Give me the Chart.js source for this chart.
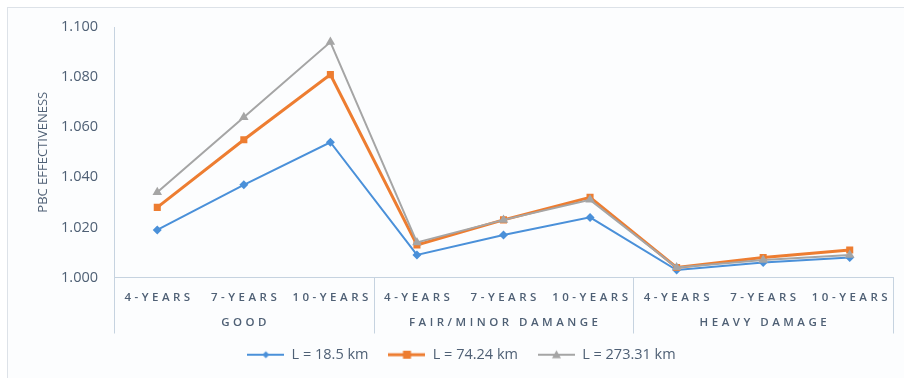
<!DOCTYPE html>
<html>
<head>
  <meta charset="UTF-8">
  <title>PBC Effectiveness</title>
  <style>
    body {
      margin: 0;
      background: #ffffff;
      overflow: hidden;
    }
    #frame {
      position: absolute;
      left: 7px;
      top: 7px;
      width: 910px;
      height: 390px;
      border: 1px solid #dde2e8;
      background: #fcfdfe;
    }
    #chart {
      position: absolute;
      left: 0;
      top: 0;
    }
  </style>
  <script src="https://cdn.jsdelivr.net/npm/chart.js"></script>
</head>
<body>
  <div id="frame"></div>
  <canvas id="chart" width="904" height="378"></canvas>
  <script>
    const categories = ['4-YEARS', '7-YEARS', '10-YEARS', '4-YEARS', '7-YEARS', '10-YEARS', '4-YEARS', '7-YEARS', '10-YEARS'];
    const groups = ['GOOD', 'FAIR/MINOR DAMANGE', 'HEAVY DAMAGE'];
    const seriesNames = ['L = 18.5 km', 'L = 74.24 km', 'L = 273.31 km'];
    const short = [1.019, 1.037, 1.054, 1.009, 1.017, 1.024, 1.003, 1.006, 1.008];
    const medium = [1.028, 1.055, 1.081, 1.013, 1.023, 1.032, 1.004, 1.008, 1.011];
    const long = [1.034, 1.064, 1.094, 1.014, 1.023, 1.031, 1.004, 1.007, 1.009];
    const yTicks = { min: 1.0, max: 1.1, step: 0.02 };

    const textColor = '#4f6075';
    const axisColor = '#c6d3e0';
    const colors = ['#4a90d9', '#ed7d31', '#a5a5a5'];
    const styles = [
      { pointStyle: 'rectRot', radius: 4.5, width: 2 },
      { pointStyle: 'rect', radius: 5, width: 3 },
      { pointStyle: 'triangle', radius: 5.5, width: 2 }
    ];

    // small "line with marker" swatch for the legend
    function legendSwatch(i) {
      const c = document.createElement('canvas');
      c.width = 37;
      c.height = 12;
      const g = c.getContext('2d');
      g.strokeStyle = colors[i];
      g.fillStyle = colors[i];
      g.lineWidth = styles[i].width;
      g.beginPath();
      g.moveTo(0, 6);
      g.lineTo(37, 6);
      g.stroke();
      g.beginPath();
      if (i === 0) {
        g.moveTo(18.5, 2.5); g.lineTo(22, 6); g.lineTo(18.5, 9.5); g.lineTo(15, 6);
      } else if (i === 1) {
        g.rect(14.5, 2, 8, 8);
      } else {
        g.moveTo(18.5, 1.5); g.lineTo(23, 9.5); g.lineTo(14, 9.5);
      }
      g.closePath();
      g.fill();
      return c;
    }
    const swatches = [0, 1, 2].map(legendSwatch);

    // two-row category axis: years under each point, condition under each group
    const groupedAxis = {
      id: 'groupedAxis',
      afterDraw(chart) {
        const ctx = chart.ctx;
        const x = chart.scales.x;
        const bottom = chart.chartArea.bottom;
        const step = x.getPixelForValue(1) - x.getPixelForValue(0);
        const per = categories.length / groups.length;
        const spacing = 3.5;
        ctx.save();
        ctx.strokeStyle = axisColor;
        ctx.lineWidth = 1;
        for (let g = 0; g <= groups.length; g++) {
          const px = Math.round(x.getPixelForValue(g * per) - step / 2) + 0.5;
          ctx.beginPath();
          ctx.moveTo(px, bottom);
          ctx.lineTo(px, bottom + 56);
          ctx.stroke();
        }
        ctx.fillStyle = textColor;
        ctx.textAlign = 'center';
        ctx.textBaseline = 'middle';
        ctx.font = '600 11.5px "Open Sans"';
        ctx.letterSpacing = spacing + 'px';
        categories.forEach((c, i) => {
          ctx.fillText(c, x.getPixelForValue(i) + spacing / 2, bottom + 20);
        });
        groups.forEach((g, i) => {
          const cx = (x.getPixelForValue(i * per) + x.getPixelForValue(i * per + per - 1)) / 2;
          ctx.fillText(g, cx + spacing / 2, bottom + 45);
        });
        ctx.restore();
      }
    };

    const data = [short, medium, long];
    const ctx = document.getElementById('chart').getContext('2d');

    new Chart(ctx, {
      type: 'line',
      data: {
        labels: categories,
        datasets: data.map((values, i) => ({
          label: seriesNames[i],
          data: values,
          borderColor: colors[i],
          backgroundColor: colors[i],
          borderWidth: styles[i].width,
          pointStyle: styles[i].pointStyle,
          pointRadius: styles[i].radius,
          pointBorderWidth: 0,
          tension: 0,
          fill: false,
          order: 2 - i
        }))
      },
      options: {
        responsive: false,
        animation: false,
        layout: {
          padding: { top: 27, left: 30, right: 11, bottom: 6 }
        },
        plugins: {
          title: { display: false },
          tooltip: { enabled: false },
          legend: {
            position: 'bottom',
            labels: {
              usePointStyle: true,
              pointStyleWidth: 37,
              boxHeight: 12,
              padding: 20,
              color: textColor,
              font: { family: '"Open Sans"', size: 14.5 },
              generateLabels(chart) {
                return Chart.defaults.plugins.legend.labels.generateLabels(chart)
                  .sort((a, b) => a.datasetIndex - b.datasetIndex)
                  .map(item => Object.assign(item, { pointStyle: swatches[item.datasetIndex] }));
              }
            }
          }
        },
        scales: {
          x: {
            type: 'category',
            offset: true,
            grid: { display: false },
            border: { display: true, color: axisColor, width: 1 },
            ticks: { display: false },
            afterFit(scale) { scale.height = 50; }
          },
          y: {
            min: yTicks.min,
            max: yTicks.max,
            grid: { display: false, drawTicks: false },
            border: { display: true, color: axisColor, width: 1 },
            ticks: {
              stepSize: yTicks.step,
              padding: 16,
              color: textColor,
              font: { family: '"Open Sans"', size: 14.5 },
              callback: v => v.toFixed(3)
            },
            title: {
              display: true,
              text: 'PBC EFFECTIVENESS',
              color: textColor,
              font: { family: '"Open Sans"', size: 13 },
              padding: { top: 5, bottom: 0 }
            },
            afterFit(scale) { scale.width = 84; }
          }
        }
      },
      plugins: [groupedAxis]
    });
  </script>
</body>
</html>
